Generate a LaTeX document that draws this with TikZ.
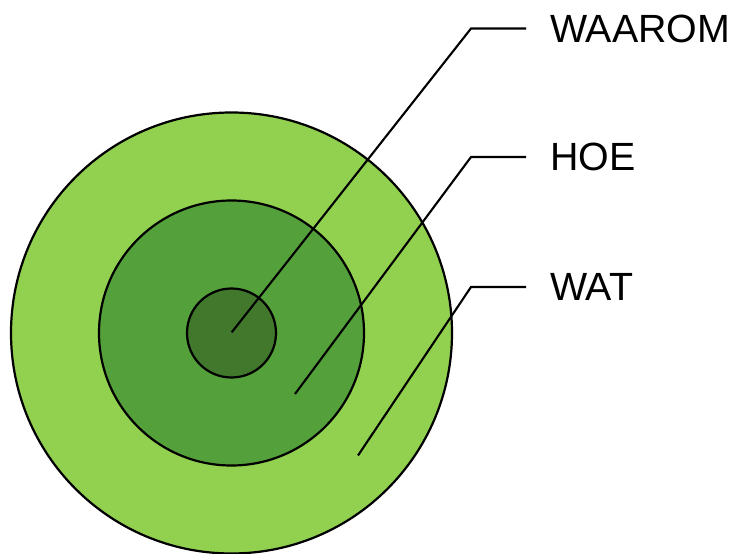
\documentclass[tikz,border=0pt]{standalone}
\usepackage{fontspec}
\setmainfont{Liberation Sans}
\definecolor{watgreen}{HTML}{92D050}
\definecolor{hoegreen}{HTML}{54A03B}
\definecolor{waaromgreen}{HTML}{41782C}

\tikzset{
  ring/.style={circle, draw=black, line width=2.2bp, inner sep=0pt},
  word/.style={anchor=base west, inner sep=0pt, font=\fontsize{39.5}{47}\selectfont},
}

\begin{document}
\begin{tikzpicture}[x=1bp, y=-1bp, line width=2.1bp]
  \useasboundingbox (0,0) rectangle (733,554);
  % rings
  \node[ring, fill=watgreen, minimum size=441bp] (wat) at (231.5, 333) {};
  \node[ring, fill=hoegreen, minimum size=265bp] (hoe) at (231.5, 333) {};
  \node[ring, fill=waaromgreen, minimum size=89bp] (waarom) at (231.5, 333) {};
  % labels
  \node[word] (waaromtext) at (549, 42.3) {WAAROM};
  \node[word] (hoetext) at (549, 170.3) {HOE};
  \node[word] (wattext) at (549, 300.8) {WAT};
  % leader lines
  \coordinate (waaromin) at (231.7, 332.3);
  \coordinate (waaromknee) at (471, 28.5);
  \coordinate (waaromend) at (526, 28.5);
  \coordinate (hoein) at (295, 394);
  \coordinate (hoeknee) at (471, 157);
  \coordinate (hoeend) at (526, 157);
  \coordinate (watin) at (358, 455.5);
  \coordinate (watknee) at (471, 287);
  \coordinate (watend) at (526, 287);
  \draw (waaromin) -- (waaromknee) -- (waaromend);
  \draw (hoein) -- (hoeknee) -- (hoeend);
  \draw (watin) -- (watknee) -- (watend);
\end{tikzpicture}
\end{document}
